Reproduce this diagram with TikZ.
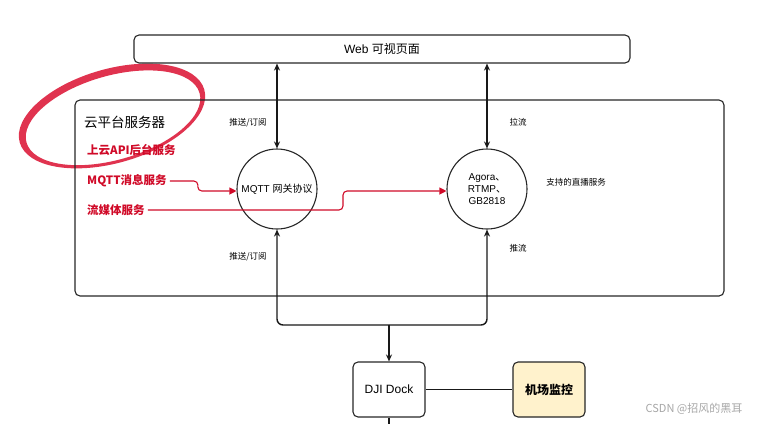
\documentclass[tikz,border=0pt]{standalone}
\usepackage{fontspec}
\setmainfont{Liberation Sans}
\newfontfamily\cjk{Noto Sans CJK SC}
\usetikzlibrary{arrows.meta}
\definecolor{hred}{RGB}{208,10,40}
\definecolor{ered}{RGB}{222,40,70}
\definecolor{monfill}{RGB}{255,242,204}
\begin{document}
\begin{tikzpicture}[x=1pt,y=-1pt,
  box/.style={draw=black!85,line width=1.1pt,rounded corners=5pt,inner sep=0pt},
  circ/.style={draw=black!85,line width=1.1pt,circle,minimum size=80pt,inner sep=0pt,align=center,font=\fontsize{10}{12}\selectfont},
  conn/.style={line width=1.4pt,black!90},
  tip/.style={-{Stealth[length=7pt,width=6pt]}},
  redc/.style={line width=1.1pt,hred,rounded corners=4pt,-{Triangle[length=7pt,width=7pt]}},
  redlab/.style={anchor=west,text=hred,font=\cjk\bfseries\fontsize{11.5}{13}\selectfont,inner sep=3pt},
  small/.style={font=\cjk\fontsize{8.5}{10}\selectfont,inner sep=0pt}]
\useasboundingbox (0,0) rectangle (764,424);

% red ellipse (behind the labels)
\begin{scope}[shift={(112,116)},rotate=16]
\fill[ered,opacity=0.95,even odd rule] (0,0) ellipse [x radius=96pt,y radius=47pt]
  (0.5pt,-2pt) ellipse [x radius=90pt,y radius=42pt];
\end{scope}

% boxes
\node[box,minimum width=496pt,minimum height=28pt,font=\fontsize{12}{14}\selectfont] (web) at (382,49) {Web {\cjk 可视页面}};
\node[box,minimum width=649pt,minimum height=196pt] (cloud) at (399.5,198) {};
\node[circ] (mqtt) at (277,189) {MQTT {\cjk 网关协议}};
\node[circ] (agora) at (487,189) {Agora{\cjk 、}\\RTMP{\cjk 、}\\GB2818};
\node[box,minimum width=72pt,minimum height=55pt,font=\fontsize{12}{14}\selectfont] (dock) at (389,389.5) {DJI Dock};
\node[box,fill=monfill,minimum width=72pt,minimum height=55pt,font=\cjk\bfseries\fontsize{12}{14}\selectfont] (mon) at (549,389.5) {机场监控};

% texts
\node[anchor=west,inner sep=0pt,font=\cjk\fontsize{13.5}{15}\selectfont] (cloudlab) at (84,122) {云平台服务器};
\node[redlab] (api) at (84,150) {上云API后台服务};
\node[redlab] (mq) at (84,181) {MQTT消息服务};
\node[redlab] (lm) at (84,210) {流媒体服务};
\node[small] (l1) at (248,123) {推送/订阅};
\node[small] (l2) at (518,122) {拉流};
\node[small] (l3) at (576,182) {支持的直播服务};
\node[small] (l4) at (248,257) {推送/订阅};
\node[small] (l5) at (518,248) {推流};
\node[font=\cjk\fontsize{11}{13}\selectfont,text=black!35,inner sep=0pt] (wm) at (694,409) {CSDN @招风的黑耳};

% black connectors
\draw[conn,{Stealth[length=7pt,width=6pt]}-{Stealth[length=7pt,width=6pt]}] (web.south -| mqtt) -- (mqtt.north);
\draw[conn,{Stealth[length=7pt,width=6pt]}-{Stealth[length=7pt,width=6pt]}] (web.south -| agora) -- (agora.north);
\coordinate (j) at (389,325);
\draw[conn,tip,rounded corners=6pt] (j) -| (mqtt.south);
\draw[conn,tip,rounded corners=6pt] (j) -| (agora.south);
\draw[conn,tip] (j) -- (dock.north);
\draw[conn] (dock) -- (mon);
\coordinate (tick) at (389,424);
\draw[conn] (dock.south) -- (tick);

% red connectors
\draw[redc] (mq.east) -- ++(28,0) |- ([yshift=-2pt]mqtt.west);
\coordinate (k2) at (343,210);
\draw[redc] (lm.east) -- (k2) |- ([yshift=-2pt]agora.west);
\end{tikzpicture}
\end{document}
